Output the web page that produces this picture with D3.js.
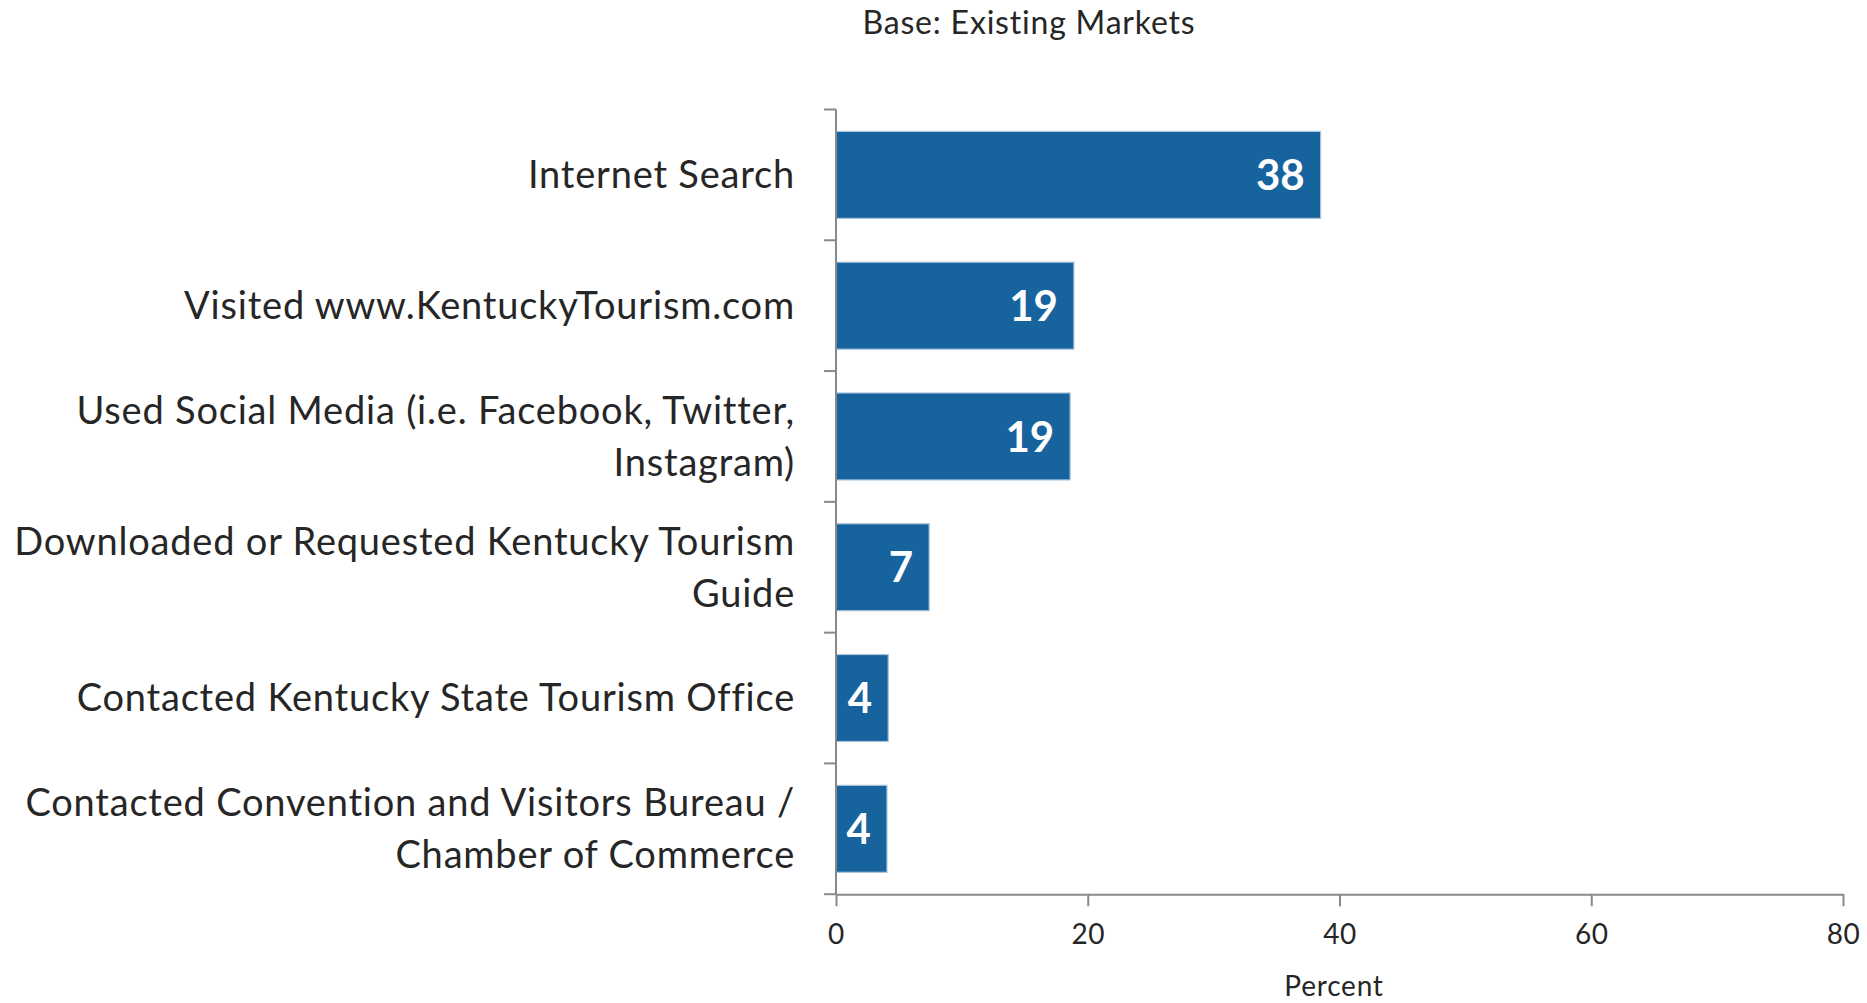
<!DOCTYPE html>
<html>
<meta charset="utf-8">
<title>Existing Markets - information sources</title>
<style>
  body { margin: 0; background: #fff; }
  svg text { font-family: Lato, "Open Sans", sans-serif; fill: #262626; }
</style>
<body>
<div id="chart"></div>
<script src="https://cdnjs.cloudflare.com/ajax/libs/d3/7.8.5/d3.min.js"></script>
<script>
// categories (each entry = lines of the label) and their values
var categories = [
  ["Internet Search"],
  ["Visited www.KentuckyTourism.com"],
  ["Used Social Media (i.e. Facebook, Twitter,", "Instagram)"],
  ["Downloaded or Requested Kentucky Tourism", "Guide"],
  ["Contacted Kentucky State Tourism Office"],
  ["Contacted Convention and Visitors Bureau /", "Chamber of Commerce"]
];
var values = [38.5, 18.9, 18.6, 7.4, 4.15, 4.05];
var valueLabels = ["38", "19", "19", "7", "4", "4"];
var xTicks = [0, 20, 40, 60, 80];
var title = "Base: Existing Markets";
var xTitle = "Percent";

var W = 1867, H = 1003;
var svg = d3.select("#chart").append("svg")
  .attr("width", W)
  .attr("height", H);

var x = d3.scaleLinear().domain([0, 80]).range([836, 1843]);
var y = d3.scaleBand()
  .domain(d3.range(categories.length))
  .range([109.5, 894.2])
  .paddingInner(0.335)
  .paddingOuter(0.1675);

var axisColor = "#898989";

// bars
svg.selectAll("rect.bar")
  .data(values)
  .enter().append("rect")
  .attr("class", "bar")
  .attr("x", x(0))
  .attr("y", function (d, i) { return y(i); })
  .attr("width", function (d) { return x(d) - x(0); })
  .attr("height", y.bandwidth())
  .style("fill", "#17639e")
  .style("stroke", "#a9c4dc")
  .style("stroke-width", 1.2);

// value labels inside the bars
svg.selectAll("text.val")
  .data(values)
  .enter().append("text")
  .attr("class", "val")
  .attr("x", function (d) { return x(d) - 16; })
  .attr("y", function (d, i) { return y(i) + y.bandwidth() / 2; })
  .attr("dy", "0.36em")
  .attr("text-anchor", "end")
  .style("font-size", "42px")
  .style("font-weight", "bold")
  .style("fill", "#ffffff")
  .text(function (d, i) { return valueLabels[i]; });

// y axis line + ticks at the band boundaries
var step = y.step();
var yTop = 109.5, yBot = 894.2;
svg.append("line")
  .attr("x1", x(0)).attr("x2", x(0))
  .attr("y1", yTop).attr("y2", yBot)
  .style("stroke", axisColor).style("stroke-width", 2);
svg.selectAll("line.ytick")
  .data(d3.range(categories.length + 1))
  .enter().append("line")
  .attr("class", "ytick")
  .attr("x1", x(0) - 12).attr("x2", x(0))
  .attr("y1", function (k) { return yTop + k * step; })
  .attr("y2", function (k) { return yTop + k * step; })
  .style("stroke", axisColor).style("stroke-width", 2);

// category labels
var lineGap = 52;
svg.selectAll("text.cat")
  .data(categories)
  .enter().append("text")
  .attr("class", "cat")
  .attr("text-anchor", "end")
  .style("font-size", "38px")
  .style("letter-spacing", "0.8px")
  .each(function (lines, i) {
    var cy = y(i) + y.bandwidth() / 2;
    var t = d3.select(this);
    lines.forEach(function (ln, j) {
      t.append("tspan")
        .attr("x", 795)
        .attr("y", cy + (j - (lines.length - 1) / 2) * lineGap)
        .attr("dy", "0.35em")
        .text(ln);
    });
  });

// x axis
var xAxis = d3.axisBottom(x).tickValues(xTicks).tickSize(12).tickPadding(18).tickSizeOuter(0);
var gx = svg.append("g")
  .attr("transform", "translate(0," + yBot + ")")
  .call(xAxis);
gx.select(".domain").style("stroke", axisColor).style("stroke-width", 2);
gx.selectAll(".tick line").style("stroke", axisColor).style("stroke-width", 2);
gx.selectAll(".tick text")
  .style("font-size", "28px")
  .style("letter-spacing", "0.6px")
  .style("font-family", "Lato, 'Open Sans', sans-serif")
  .style("fill", "#262626");

// axis title
svg.append("text")
  .attr("x", 1334)
  .attr("y", 986)
  .attr("dy", "0.35em")
  .attr("text-anchor", "middle")
  .style("font-size", "28px")
  .style("letter-spacing", "0.8px")
  .text(xTitle);

// chart title
svg.append("text")
  .attr("x", 1029)
  .attr("y", 23)
  .attr("dy", "0.35em")
  .attr("text-anchor", "middle")
  .style("font-size", "32px")
  .style("letter-spacing", "0.8px")
  .text(title);
</script>
</body>
</html>
